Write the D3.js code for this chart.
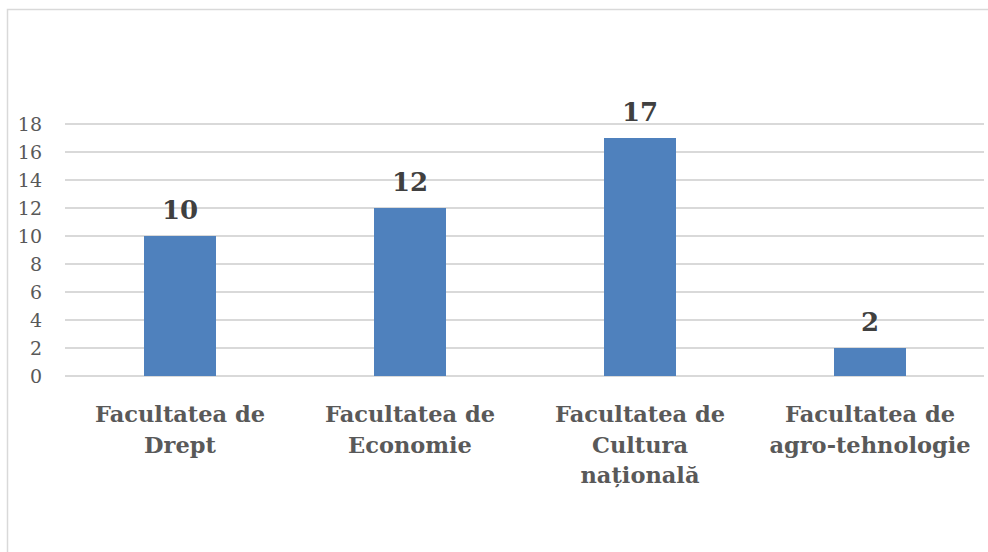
<!DOCTYPE html>
<html>
<head>
  <meta charset="utf-8">
  <title>Facultăți</title>
  <style>
    body { margin: 0; background: #fff; }
    svg { display: block; }
    svg text { font-family: "DejaVu Serif", "Liberation Serif", serif; }
  </style>
  <script src="https://cdn.jsdelivr.net/npm/d3@7/dist/d3.min.js"></script>
</head>
<body>
<script>
  // date
  var categories = [
    ['Facultatea de', 'Drept'],
    ['Facultatea de', 'Economie'],
    ['Facultatea de', 'Cultura', 'națională'],
    ['Facultatea de', 'agro-tehnologie']
  ];
  var values = [10, 12, 17, 2];
  var yTicks = [0, 2, 4, 6, 8, 10, 12, 14, 16, 18];

  var W = 988, H = 552;
  var svg = d3.select('body').append('svg').attr('width', W).attr('height', H);

  // chenar
  svg.append('rect')
    .attr('x', 7.5).attr('y', 9.5)
    .attr('width', W + 10).attr('height', H + 10)
    .attr('fill', 'none').attr('stroke', '#d9d9d9').attr('stroke-width', 1.5);

  var x = d3.scaleBand()
    .domain(d3.range(values.length))
    .range([65, 985])
    .paddingInner(0.687)
    .paddingOuter(0.3435);

  var y = d3.scaleLinear().domain([0, 18]).range([376, 124]);

  // grila
  svg.append('g')
    .selectAll('line')
    .data(yTicks)
    .enter().append('line')
    .attr('x1', 65).attr('x2', 984)
    .attr('y1', d => y(d)).attr('y2', d => y(d))
    .attr('stroke', '#d9d9d9').attr('stroke-width', 2);

  // axa y
  var yAxis = svg.append('g')
    .attr('transform', 'translate(42,0)')
    .call(d3.axisLeft(y).tickValues(yTicks).tickSize(0).tickPadding(0));
  yAxis.attr('font-family', null).attr('font-size', null);
  yAxis.select('.domain').remove();
  yAxis.selectAll('text')
    .attr('fill', '#595959')
    .attr('dy', '0.36em')
    .style('font-size', '19px');

  // bare
  svg.selectAll('.bar')
    .data(values)
    .enter().append('rect')
    .attr('class', 'bar')
    .attr('x', (d, i) => x(i))
    .attr('width', x.bandwidth())
    .attr('y', d => y(d))
    .attr('height', d => y(0) - y(d))
    .attr('fill', '#4f81bd');

  // etichete valori
  svg.selectAll('.val')
    .data(values)
    .enter().append('text')
    .attr('class', 'val')
    .attr('x', (d, i) => x(i) + x.bandwidth() / 2)
    .attr('y', d => y(d) - 17)
    .attr('text-anchor', 'middle')
    .attr('fill', '#404040')
    .style('font-size', '26px')
    .style('font-weight', 'bold')
    .text(d => d);

  // etichete categorii
  var cat = svg.selectAll('.cat')
    .data(categories)
    .enter().append('text')
    .attr('class', 'cat')
    .attr('text-anchor', 'middle')
    .attr('fill', '#595959')
    .style('font-size', '22.5px')
    .style('font-weight', 'bold');

  cat.selectAll('tspan')
    .data((d, i) => d.map(t => ({ t: t, i: i })))
    .enter().append('tspan')
    .attr('x', d => x(d.i) + x.bandwidth() / 2)
    .attr('y', (d, j) => 422 + j * 30.5)
    .text(d => d.t);
</script>
</body>
</html>
